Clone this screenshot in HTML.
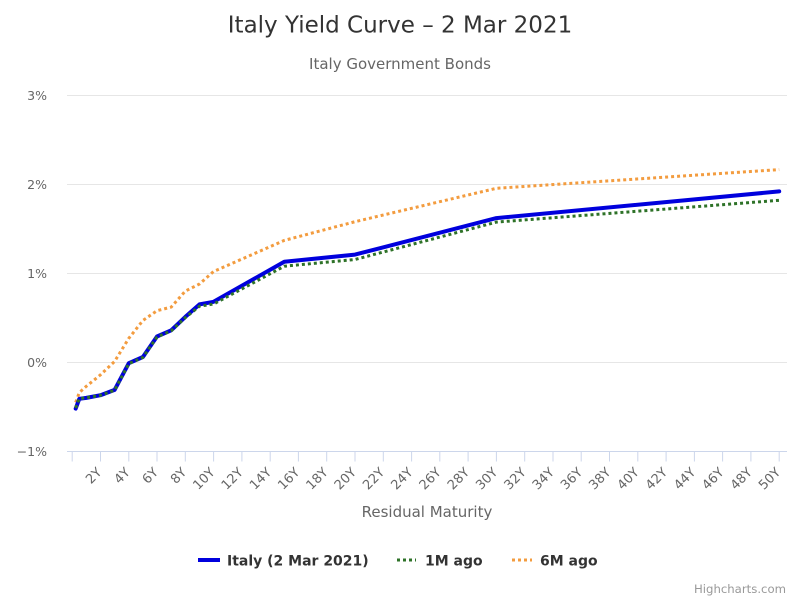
<!DOCTYPE html>
<html>
<head>
<meta charset="utf-8">
<style>
  html, body { margin: 0; padding: 0; background: #ffffff; }
  svg { display: block; }
  text { font-family: "DejaVu Sans", "Liberation Sans", sans-serif; }
</style>
</head>
<body>
<svg width="800" height="600" viewBox="0 0 800 600" xmlns="http://www.w3.org/2000/svg">
  <rect x="0" y="0" width="800" height="600" fill="#ffffff"/>

  <!-- Title -->
  <text x="400" y="32.5" text-anchor="middle" font-size="23" fill="#333333">Italy Yield Curve – 2 Mar 2021</text>
  <text x="400" y="69" text-anchor="middle" font-size="15" fill="#666666">Italy Government Bonds</text>

  <!-- Grid lines -->
  <g stroke="#e6e6e6" stroke-width="1">
    <line x1="67" y1="95.5" x2="787" y2="95.5"/>
    <line x1="67" y1="184.5" x2="787" y2="184.5"/>
    <line x1="67" y1="273.5" x2="787" y2="273.5"/>
    <line x1="67" y1="362.5" x2="787" y2="362.5"/>
  </g>

  <!-- Y labels -->
  <g font-size="12.5" fill="#666666" text-anchor="end">
    <text x="47" y="100">3%</text>
    <text x="47" y="189">2%</text>
    <text x="47" y="278">1%</text>
    <text x="47" y="367">0%</text>
    <text x="47" y="456">−1%</text>
  </g>

  <!-- X axis -->
  <line x1="67" y1="451.5" x2="787" y2="451.5" stroke="#ccd6eb" stroke-width="1"/>
  <g stroke="#ccd6eb" stroke-width="1">
    <line x1="72.2" y1="451.5" x2="72.2" y2="461.5"/>
    <line x1="100.5" y1="451.5" x2="100.5" y2="461.5"/>
    <line x1="128.8" y1="451.5" x2="128.8" y2="461.5"/>
    <line x1="157.0" y1="451.5" x2="157.0" y2="461.5"/>
    <line x1="185.3" y1="451.5" x2="185.3" y2="461.5"/>
    <line x1="213.6" y1="451.5" x2="213.6" y2="461.5"/>
    <line x1="241.9" y1="451.5" x2="241.9" y2="461.5"/>
    <line x1="270.2" y1="451.5" x2="270.2" y2="461.5"/>
    <line x1="298.4" y1="451.5" x2="298.4" y2="461.5"/>
    <line x1="326.7" y1="451.5" x2="326.7" y2="461.5"/>
    <line x1="355.0" y1="451.5" x2="355.0" y2="461.5"/>
    <line x1="383.3" y1="451.5" x2="383.3" y2="461.5"/>
    <line x1="411.6" y1="451.5" x2="411.6" y2="461.5"/>
    <line x1="439.8" y1="451.5" x2="439.8" y2="461.5"/>
    <line x1="468.1" y1="451.5" x2="468.1" y2="461.5"/>
    <line x1="496.4" y1="451.5" x2="496.4" y2="461.5"/>
    <line x1="524.7" y1="451.5" x2="524.7" y2="461.5"/>
    <line x1="553.0" y1="451.5" x2="553.0" y2="461.5"/>
    <line x1="581.2" y1="451.5" x2="581.2" y2="461.5"/>
    <line x1="609.5" y1="451.5" x2="609.5" y2="461.5"/>
    <line x1="637.8" y1="451.5" x2="637.8" y2="461.5"/>
    <line x1="666.1" y1="451.5" x2="666.1" y2="461.5"/>
    <line x1="694.4" y1="451.5" x2="694.4" y2="461.5"/>
    <line x1="722.6" y1="451.5" x2="722.6" y2="461.5"/>
    <line x1="750.9" y1="451.5" x2="750.9" y2="461.5"/>
    <line x1="779.2" y1="451.5" x2="779.2" y2="461.5"/>
  </g>

  <g font-size="13" fill="#666666" text-anchor="end">
    <text x="102.5" y="473" transform="rotate(-45 102.5 473)">2Y</text>
    <text x="130.8" y="473" transform="rotate(-45 130.8 473)">4Y</text>
    <text x="159.0" y="473" transform="rotate(-45 159.0 473)">6Y</text>
    <text x="187.3" y="473" transform="rotate(-45 187.3 473)">8Y</text>
    <text x="215.6" y="473" transform="rotate(-45 215.6 473)">10Y</text>
    <text x="243.9" y="473" transform="rotate(-45 243.9 473)">12Y</text>
    <text x="272.2" y="473" transform="rotate(-45 272.2 473)">14Y</text>
    <text x="300.4" y="473" transform="rotate(-45 300.4 473)">16Y</text>
    <text x="328.7" y="473" transform="rotate(-45 328.7 473)">18Y</text>
    <text x="357.0" y="473" transform="rotate(-45 357.0 473)">20Y</text>
    <text x="385.3" y="473" transform="rotate(-45 385.3 473)">22Y</text>
    <text x="413.6" y="473" transform="rotate(-45 413.6 473)">24Y</text>
    <text x="441.8" y="473" transform="rotate(-45 441.8 473)">26Y</text>
    <text x="470.1" y="473" transform="rotate(-45 470.1 473)">28Y</text>
    <text x="498.4" y="473" transform="rotate(-45 498.4 473)">30Y</text>
    <text x="526.7" y="473" transform="rotate(-45 526.7 473)">32Y</text>
    <text x="555.0" y="473" transform="rotate(-45 555.0 473)">34Y</text>
    <text x="583.2" y="473" transform="rotate(-45 583.2 473)">36Y</text>
    <text x="611.5" y="473" transform="rotate(-45 611.5 473)">38Y</text>
    <text x="639.8" y="473" transform="rotate(-45 639.8 473)">40Y</text>
    <text x="668.1" y="473" transform="rotate(-45 668.1 473)">42Y</text>
    <text x="696.4" y="473" transform="rotate(-45 696.4 473)">44Y</text>
    <text x="724.6" y="473" transform="rotate(-45 724.6 473)">46Y</text>
    <text x="752.9" y="473" transform="rotate(-45 752.9 473)">48Y</text>
    <text x="781.2" y="473" transform="rotate(-45 781.2 473)">50Y</text>
  </g>

  <text x="427" y="517" text-anchor="middle" font-size="15" fill="#666666">Residual Maturity</text>

  <!-- Series: 6M ago (orange dotted) -->
  <polyline fill="none" stroke="#f39c3f" stroke-width="3" stroke-dasharray="3,3" stroke-linejoin="round"
    points="75.7,402.4 79.3,392.6 86.3,386.3 100.5,374.8 114.6,361.4 128.8,338.3 142.9,320.5 157.0,310.7 171.2,307.1 185.3,291.1 199.5,284.0 213.6,271.5 284.3,240.4 355.0,221.7 496.4,188.3 779.2,169.6"/>

  <!-- Series: Italy (blue solid) -->
  <polyline fill="none" stroke="#0000dd" stroke-width="4" stroke-linejoin="round" stroke-linecap="round"
    points="75.7,408.6 79.3,398.8 86.3,397.9 100.5,395.2 114.6,389.9 128.8,363.2 142.9,357.0 157.0,336.5 171.2,330.3 185.3,316.9 199.5,304.4 213.6,301.8 284.3,261.7 355.0,254.6 496.4,218.1 779.2,191.4"/>

  <!-- Series: 1M ago (green dotted) -->
  <polyline fill="none" stroke="#2e7228" stroke-width="3" stroke-dasharray="3,3" stroke-linejoin="round"
    points="75.7,408.0 79.3,398.6 86.3,397.8 100.5,395.3 114.6,390.2 128.8,363.6 142.9,357.4 157.0,337.0 171.2,330.8 185.3,317.6 199.5,306.2 213.6,304.0 284.3,266.2 355.0,259.5 496.4,222.1 779.2,200.3"/>

  <!-- Legend -->
  <line x1="198" y1="560" x2="220" y2="560" stroke="#0000dd" stroke-width="4"/>
  <text x="227" y="565.5" font-size="14" font-weight="bold" fill="#333333">Italy (2 Mar 2021)</text>
  <line x1="397" y1="560" x2="416" y2="560" stroke="#2e7228" stroke-width="3" stroke-dasharray="3,3"/>
  <text x="425" y="565.5" font-size="14" font-weight="bold" fill="#333333">1M ago</text>
  <line x1="512" y1="560" x2="532" y2="560" stroke="#f39c3f" stroke-width="3" stroke-dasharray="3,3"/>
  <text x="540" y="565.5" font-size="14" font-weight="bold" fill="#333333">6M ago</text>

  <!-- Credits -->
  <text x="786" y="593" text-anchor="end" font-size="11.7" fill="#999999">Highcharts.com</text>
</svg>
</body>
</html>
